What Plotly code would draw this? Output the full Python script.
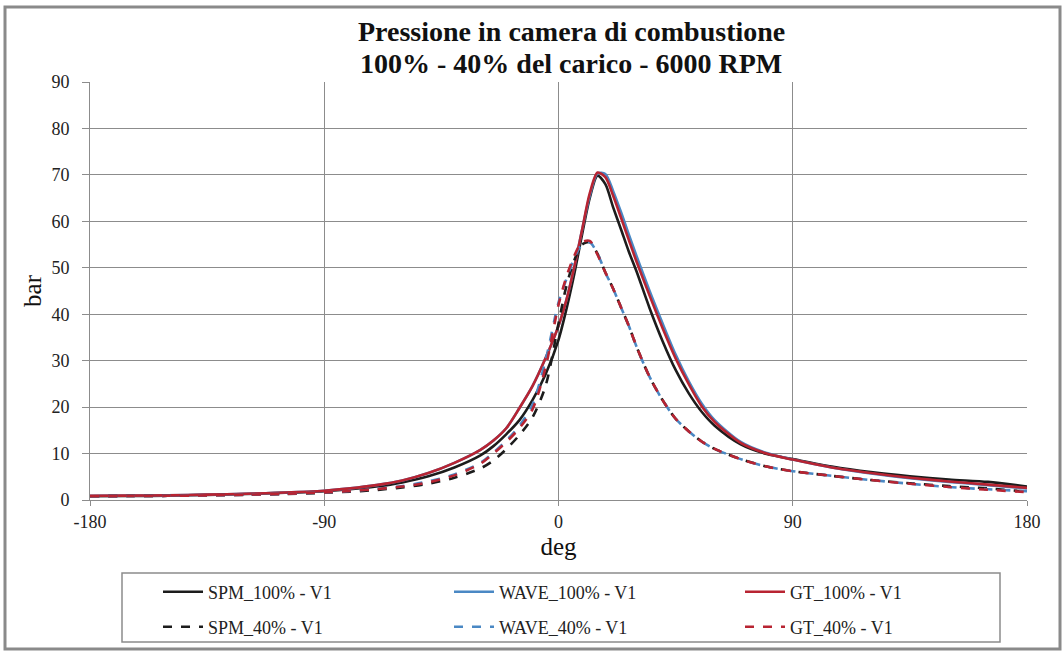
import plotly.graph_objects as go

deg = [-180, -165, -150, -135, -120, -105, -90, -80, -70, -60, -50, -40, -30, -25, -20, -15, -10, -5,
       0, 3, 6, 9, 12, 15, 18, 21, 24, 27, 30, 35, 40, 45, 50, 55, 60, 70, 80, 90, 105, 120, 135, 150, 165, 180]

spm_100 = [0.8, 0.85, 0.95, 1.1, 1.3, 1.55, 1.9, 2.3, 2.9, 3.8, 5.1, 7.0, 9.6, 11.6, 14.2, 17.2, 21.5, 27.0,
           34.5, 41.0, 48.5, 57.0, 65.0, 69.8, 68.0, 63.0, 58.3, 53.5, 49.2, 41.3, 34.2, 28.0, 23.0, 19.0, 16.0,
           12.0, 9.9, 8.8, 7.2, 6.0, 5.1, 4.4, 3.9, 2.9]
wave_100 = [0.9, 0.95, 1.0, 1.15, 1.35, 1.6, 2.0, 2.5, 3.2, 4.2, 5.8, 8.0, 10.8, 12.8, 15.5, 19.8, 24.5, 30.5,
            37.5, 43.0, 50.0, 58.0, 65.5, 70.3, 70.2, 66.5, 62.0, 57.2, 52.5, 45.0, 38.0, 31.3, 25.6, 20.8, 17.2,
            12.5, 10.1, 8.7, 7.0, 5.7, 4.7, 3.9, 3.2, 2.5]
gt_100 = [0.9, 0.95, 1.0, 1.15, 1.35, 1.6, 2.0, 2.5, 3.2, 4.2, 5.8, 8.0, 10.8, 12.8, 15.5, 19.8, 24.5, 30.5,
          37.5, 43.0, 50.0, 58.0, 66.0, 70.5, 69.5, 65.5, 60.8, 56.0, 51.3, 44.0, 37.0, 30.5, 25.0, 20.2, 16.8,
          12.3, 10.0, 8.7, 7.0, 5.8, 4.8, 4.0, 3.3, 2.6]
spm_40 = [0.8, 0.85, 0.9, 1.0, 1.1, 1.3, 1.55, 1.8, 2.15, 2.7, 3.5, 4.8, 6.8, 8.5, 11.0, 14.0, 17.8, 24.5,
          38.0, 46.0, 51.5, 55.0, 55.5, 53.0, 49.0, 45.5, 41.5, 37.5, 33.0, 26.5, 21.5, 17.5, 14.8, 12.6, 11.0,
          8.8, 7.2, 6.2, 5.2, 4.3, 3.6, 3.0, 2.5, 1.8]
wave_40 = [0.8, 0.85, 0.9, 1.0, 1.15, 1.35, 1.65, 1.95, 2.4, 3.0, 4.0, 5.5, 8.0, 10.2, 12.8, 16.0, 20.5, 30.0,
           42.5, 47.5, 52.0, 55.0, 55.5, 53.0, 49.0, 45.5, 41.5, 37.5, 33.0, 26.5, 21.5, 17.5, 14.8, 12.6, 11.0,
           8.8, 7.2, 6.2, 5.2, 4.3, 3.5, 2.8, 2.3, 1.9]
gt_40 = [0.8, 0.85, 0.9, 1.0, 1.15, 1.35, 1.65, 1.95, 2.35, 2.9, 3.8, 5.3, 7.8, 10.0, 12.5, 15.5, 19.5, 28.5,
         42.0, 48.0, 52.5, 55.5, 55.8, 52.8, 49.0, 45.5, 41.5, 37.5, 33.0, 26.5, 21.5, 17.5, 14.8, 12.6, 11.0,
         8.8, 7.2, 6.2, 5.2, 4.3, 3.5, 2.8, 2.2, 1.7]

x_ticks = [-180, -90, 0, 90, 180]
x_tick_labels = ["-180", "-90", "0", "90", "180"]
y_ticks = [0, 10, 20, 30, 40, 50, 60, 70, 80, 90]
title_lines = ["Pressione in camera di combustione", "100% - 40% del carico - 6000 RPM"]

series = [
    ("SPM_100% - V1", spm_100, "#1c1c1c", "solid", "legend"),
    ("WAVE_100% - V1", wave_100, "#4a88c4", "solid", "legend"),
    ("GT_100% - V1", gt_100, "#b82432", "solid", "legend"),
    ("SPM_40% - V1", spm_40, "#1c1c1c", "dash", "legend2"),
    ("WAVE_40% - V1", wave_40, "#4a88c4", "dash", "legend2"),
    ("GT_40% - V1", gt_40, "#b82432", "dash", "legend2"),
]

fig = go.Figure()
for name, vals, col, dash, lg in series:
    fig.add_trace(go.Scatter(x=deg, y=vals, name=name, mode="lines", legend=lg,
                             line=dict(color=col, width=2.6, dash=dash, shape="spline", smoothing=0.8)))

W, H = 1064, 653
L, R, T, B = 90, 37, 82, 153
pw, ph = W - L - R, H - T - B

def px(x):
    return (x - L) / pw

def py(y):
    return (H - B - y) / ph

font = "Liberation Serif, Times New Roman, serif"
legend_common = dict(orientation="h", xanchor="left", yanchor="middle",
                     entrywidth=236, entrywidthmode="pixels", itemwidth=40,
                     font=dict(family=font, size=18, color="#222"), bgcolor="rgba(0,0,0,0)")

fig.update_layout(
    width=W, height=H,
    margin=dict(l=L, r=R, t=T, b=B, autoexpand=False),
    paper_bgcolor="white", plot_bgcolor="white",
    font=dict(family=font, size=18, color="#222"),
    xaxis=dict(range=[-180, 180], tickvals=x_ticks, ticktext=x_tick_labels, showgrid=True, gridcolor="#8c8c8c",
               gridwidth=1, showline=True, linecolor="#8c8c8c", linewidth=1, ticks="outside", ticklen=5,
               tickcolor="#8c8c8c", zeroline=False, tickfont=dict(family=font, size=18, color="#222"),
               title=dict(text="deg", font=dict(family=font, size=25, color="#111"), standoff=6)),
    yaxis=dict(range=[0, 90], tickvals=y_ticks, showgrid=True, gridcolor="#8c8c8c", gridwidth=1, showline=True,
               linecolor="#8c8c8c", linewidth=1, ticks="outside", ticklen=7, tickcolor="#8c8c8c",
               ticklabelstandoff=9,
               zeroline=False, tickfont=dict(family=font, size=18, color="#222"),
               title=dict(text="bar", font=dict(family=font, size=25, color="#111"), standoff=2)),
    showlegend=True,
    legend=dict(x=px(158), y=py(592), **legend_common),
    legend2=dict(x=px(158), y=py(627), **legend_common),
    annotations=[
        dict(text="<b>" + title_lines[0] + "</b>", xref="paper", yref="paper", x=px(571), y=py(31),
             xanchor="center", yanchor="middle", showarrow=False,
             font=dict(family=font, size=28, color="#111")),
        dict(text="<b>" + title_lines[1] + "</b>", xref="paper", yref="paper", x=px(571), y=py(63),
             xanchor="center", yanchor="middle", showarrow=False,
             font=dict(family=font, size=28, color="#111")),
    ],
    shapes=[
        dict(type="rect", xref="paper", yref="paper", x0=px(122), x1=px(1000), y0=py(642), y1=py(573),
             line=dict(color="#8c8c8c", width=1.5), fillcolor="rgba(0,0,0,0)", layer="below"),
        dict(type="rect", xref="paper", yref="paper", x0=px(5), x1=px(1060), y0=py(649), y1=py(7),
             line=dict(color="#8a8a8a", width=3), fillcolor="rgba(0,0,0,0)", layer="below"),
    ],
)

fig.write_html("out.html", config={"displayModeBar": False},
               post_script="document.body.style.margin='0';document.body.style.overflow='hidden';")
